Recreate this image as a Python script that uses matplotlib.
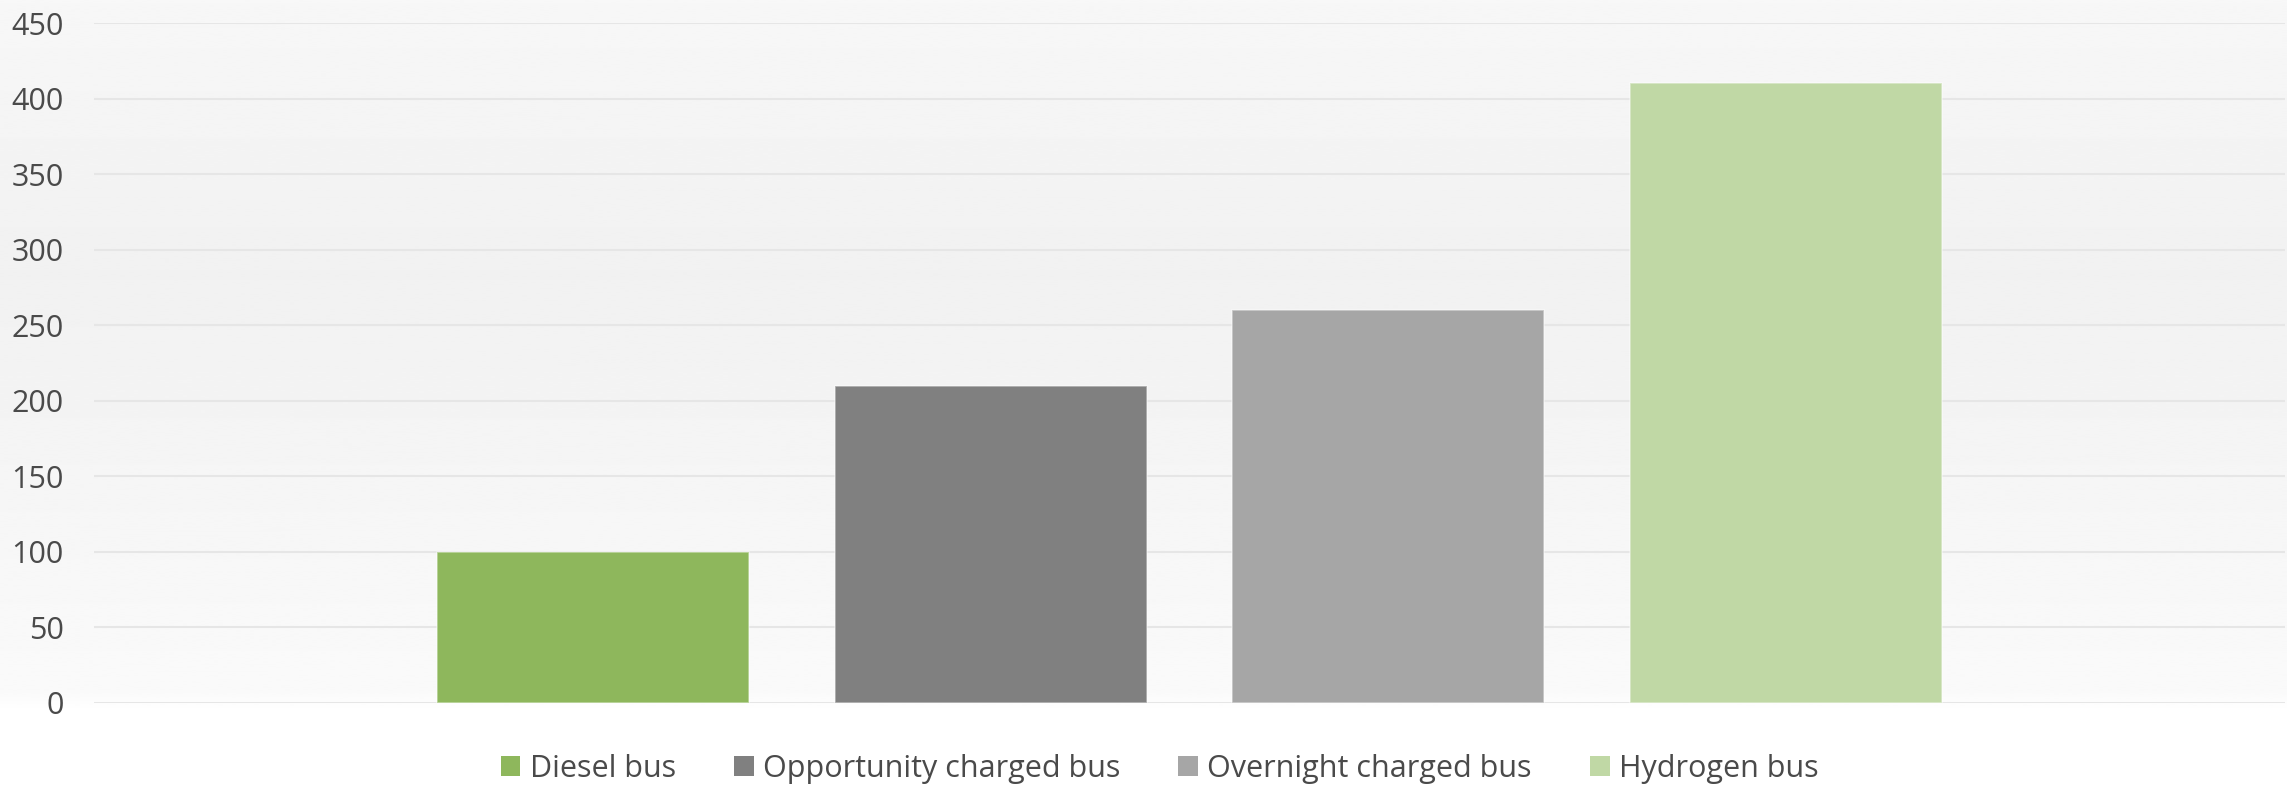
import matplotlib
matplotlib.use("Agg")
import matplotlib.pyplot as plt
from matplotlib.patches import Patch
import numpy as np

# Data
buses = ["Diesel bus", "Opportunity charged bus", "Overnight charged bus", "Hydrogen bus"]
values = [100, 210, 260, 410]
colors = ["#8eb75c", "#808080", "#a6a6a6", "#c0d8a5"]
yticks = [0, 50, 100, 150, 200, 250, 300, 350, 400, 450]

plt.rcParams['font.family'] = ['Open Sans', 'DejaVu Sans']

fig = plt.figure(figsize=(22.87, 7.86), dpi=100)

# background gradient (light grey at top, white under the plot)
bg = fig.add_axes([0, 0, 1, 1], zorder=-5)
stops = [0.0, 0.35, 0.88, 0.905, 1.0]
levels = [0.969, 0.945, 0.98, 1.0, 1.0]
yy = np.linspace(0, 1, 400)  # 0 = top of figure
col = np.interp(yy, stops, levels)
bg.imshow(np.repeat(col[:, None], 2, axis=1), cmap="gray", vmin=0, vmax=1,
          aspect="auto", extent=[0, 1, 0, 1], interpolation="bilinear")
bg.set_xlim(0, 1)
bg.set_ylim(0, 1)
bg.axis("off")

ax = fig.add_axes([0.0411, 0.1056, 0.958, 0.8651])
ax.set_facecolor("none")

x = np.arange(len(buses))
ax.bar(x, values, width=0.785, color=colors, edgecolor=(1, 1, 1, 0.45), linewidth=1.2, zorder=3)

ax.set_xlim(-1.255, 4.255)
ax.set_ylim(0, 450)
ax.set_yticks(yticks)
ax.set_yticklabels([str(t) for t in yticks])
ax.set_xticks([])
ax.grid(axis="y", color="#e6e6e6", linewidth=1.5)
ax.set_axisbelow(True)
ax.tick_params(axis="y", length=0, pad=22, labelsize=22, labelcolor="#4a4a4a")
for s in ax.spines.values():
    s.set_visible(False)

handles = [Patch(facecolor=c, edgecolor="none") for c in colors]
fig.legend(handles, buses, loc="center", bbox_to_anchor=(0.507, 0.022), ncol=4,
           frameon=False, fontsize=22, labelcolor="#4a4a4a",
           handlelength=0.65, handleheight=0.65, handletextpad=0.3,
           columnspacing=1.9, borderaxespad=0, borderpad=0)

fig.savefig("out.png", dpi=100)
